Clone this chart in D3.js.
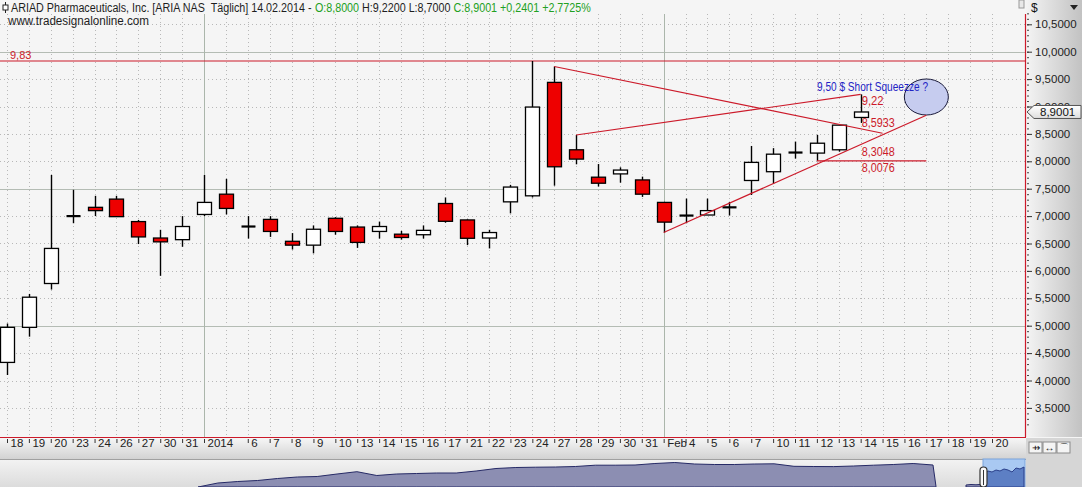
<!DOCTYPE html>
<html><head><meta charset="utf-8">
<script src="https://cdn.jsdelivr.net/npm/d3@7"></script>
<style>
body{margin:0;background:#f5f5f5;overflow:hidden}
text{font-family:"Liberation Sans",Arial,sans-serif}
</style>
</head><body><svg id="c" width="1082" height="487"></svg>
<script>
// ---------- DATA ----------
const dateLabels = ["18","19","20","23","24","26","27","30","31","2014","","6","7","8","9","10","13","14","15","16","17","21","22","23","24","27","28","29","30","31","Feb","4","5","6","7","10","11","12","13","14","15","16","17","18","19","20"];
const monthStarts = [9, 30];
const opens  = [4.33,4.97,5.77,7.00,7.16,7.31,6.90,6.60,6.57,7.03,7.40,6.81,6.94,6.54,6.47,6.96,6.80,6.72,6.67,6.66,7.23,6.93,6.60,7.26,7.37,9.44,8.21,7.71,7.77,7.66,7.25,7.01,7.02,7.16,7.65,7.81,8.16,8.15,8.21,8.80];
const highs  = [5.04,5.58,7.75,7.48,7.37,7.37,6.93,6.75,7.00,7.75,7.68,7.00,7.00,6.69,6.83,6.98,6.83,6.90,6.73,6.83,7.34,6.94,6.75,7.57,9.83,9.73,8.48,7.95,7.89,7.72,7.26,7.32,7.32,7.26,8.28,8.24,8.36,8.48,8.66,9.22];
const lows   = [4.10,4.80,5.66,6.87,7.00,6.99,6.49,5.91,6.44,7.00,7.03,6.59,6.62,6.39,6.32,6.66,6.42,6.59,6.57,6.59,6.88,6.47,6.41,7.05,7.34,7.555,7.945,7.54,7.61,7.35,6.70,6.87,7.02,7.01,7.385,7.59,8.05,8.0076,8.175,8.70];
const closes = [4.97,5.52,6.41,7.00,7.10,6.99,6.62,6.53,6.81,7.25,7.14,6.81,6.72,6.47,6.76,6.72,6.52,6.81,6.61,6.74,6.905,6.595,6.70,7.53,8.99,7.90,8.04,7.60,7.84,7.40,6.89,7.01,7.10,7.16,7.98,8.13,8.16,8.33,8.66,8.9001];
const priceTicks = [3.5,4,4.5,5,5.5,6,6.5,7,7.5,8,8.5,9,9.5,10,10.5];
const majorGrid = [5,7.5,10];
const lastPrice = 8.9001;
const levelValue = 9.83;
const descLine = [[25,9.73],[40,8.512]];
const upperLine = [[26,8.48],[39,9.22]];
const supportLine = [[30,6.70],[42,8.84]];
const flatLine = [[37,8.0076],[42,8.0076]];
const lineLabels = [["9,22",39,9.22,1],["8,5933",39,8.5933,-1],["8,3048",39,8.3048,1],["8,0076",39,8.0076,1]];
const noteText = "9,50 $ Short Squeezze ?";
const headerParts = ["ARIAD Pharmaceuticals, Inc. [ARIA NAS\u00A0 Täglich] 14.02.2014 -", "O:8,8000", "H:9,2200 L:8,7000", "C:8,9001 +0,2401 +2,7725%"];
const headerColors = ["#1e1e1e","#22a022","#1e1e1e","#22a022"];
const navValues = [0,4,5.5,6.5,8.5,10,10.5,13,15.3,11.5,13,13.5,14,14,16,18.5,19.5,19.8,20,20.5,21.8,21.8,22,23.5,24.5,23,22.5,22.5,23,23.2,20.7,20.5,20.4,21,21.8,22.5,23.5,22];
const navTail = [2,2.5,2.2,2.6];
const navWindow = [13,16,15,17,16,18,17,15,19,18,20];

// ---------- SETUP ----------
const svg = d3.select("#c");
const W = 1082, H = 487, plotR = 1025, plotT = 14, plotB = 437;
const x = d3.scaleLinear().domain([0,45]).range([7,992]);
const y = d3.scaleLinear().domain([3.5,10]).range([407.9,51.7]);
const red = "#cc1a2a";
const FS = 11;
const fmt = v => d3.format(".4f")(v).replace(".",",");

const defs = svg.append("defs");
const g1 = defs.append("linearGradient").attr("id","axR").attr("x1",0).attr("x2",1).attr("y1",0).attr("y2",0);
g1.append("stop").attr("offset",0).attr("stop-color","#f4f4f4");
g1.append("stop").attr("offset",1).attr("stop-color","#c2c2c2");
const g2 = defs.append("linearGradient").attr("id","axB").attr("x1",0).attr("x2",0).attr("y1",0).attr("y2",1);
g2.append("stop").attr("offset",0).attr("stop-color","#f6f6f6");
g2.append("stop").attr("offset",1).attr("stop-color","#d2d2d2");
const g3 = defs.append("linearGradient").attr("id","nav").attr("x1",0).attr("x2",0).attr("y1",0).attr("y2",1);
g3.append("stop").attr("offset",0).attr("stop-color","#f2f2f2");
g3.append("stop").attr("offset",1).attr("stop-color","#dcdcdc");
const g4 = defs.append("linearGradient").attr("id","mk").attr("x1",0).attr("x2",0).attr("y1",0).attr("y2",1);
g4.append("stop").attr("offset",0).attr("stop-color","#ffffff");
g4.append("stop").attr("offset",1).attr("stop-color","#dedede");

svg.append("rect").attr("width",W).attr("height",H).attr("fill","#f5f5f5");

// ---------- GRID ----------
const grid = svg.append("g");
priceTicks.forEach(v=>{
  const major = majorGrid.includes(v);
  grid.append("line").attr("x1",0).attr("x2",plotR).attr("y1",Math.round(y(v))+0.5).attr("y2",Math.round(y(v))+0.5)
    .attr("stroke", major?"#b4bcb4":"#b8b8b8").attr("stroke-dasharray", major?null:"1,3");
});
dateLabels.forEach((d,i)=>{
  const major = monthStarts.includes(i);
  grid.append("line").attr("x1",Math.round(x(i))+0.5).attr("x2",Math.round(x(i))+0.5).attr("y1",plotT).attr("y2",plotB)
    .attr("stroke", major?"#abb6ab":"#b8b8b8").attr("stroke-dasharray", major?null:"1,3");
});

// ---------- LEVEL LINE ----------
svg.append("line").attr("x1",0).attr("x2",plotR).attr("y1",y(levelValue)).attr("y2",y(levelValue)).attr("stroke",red).attr("stroke-width",1.2);
svg.append("text").attr("x",10).attr("y",y(levelValue)-2).attr("fill",red).attr("font-size",FS).text(fmt(levelValue).replace(/0+$/,""));

// ---------- CANDLES ----------
const cw = 14;
const cg = svg.append("g");
opens.forEach((o,i)=>{
  const c = closes[i], cx = Math.round(x(i))+0.5;
  cg.append("line").attr("x1",cx).attr("x2",cx).attr("y1",y(highs[i])).attr("y2",y(lows[i])).attr("stroke","#000").attr("stroke-width",1.4);
  if (o === c) {
    cg.append("line").attr("x1",cx-cw/2).attr("x2",cx+cw/2).attr("y1",y(o)).attr("y2",y(o)).attr("stroke","#000").attr("stroke-width",2.2);
  } else {
    const top = y(Math.max(o,c)), bot = y(Math.min(o,c));
    cg.append("rect").attr("x",cx-cw/2).attr("y",top).attr("width",cw).attr("height",Math.max(bot-top,2))
      .attr("fill", c>o?"#ffffff":"#ee0000").attr("stroke","#000").attr("stroke-width",1.3);
  }
});

// ---------- TRENDLINES ----------
svg.append("ellipse").attr("cx",x(42)).attr("cy",97).attr("rx",22).attr("ry",18).attr("fill","#c6ccef").attr("stroke","#1a1a3a").attr("stroke-width",1);
const ln = d3.line().x(d=>x(d[0])).y(d=>y(d[1]));
[descLine, upperLine, supportLine, flatLine].forEach(l=>{
  svg.append("path").attr("d",ln(l)).attr("fill","none").attr("stroke",red).attr("stroke-width",1.2);
});
lineLabels.forEach(([t,i,v,dir])=>{
  svg.append("text").attr("x",x(i)+1).attr("y", dir>0 ? y(v)+11 : y(v)-2).attr("fill",red).attr("font-size",FS+1).attr("textLength",t.length>4?33:22).attr("lengthAdjust","spacingAndGlyphs").text(t);
});
svg.append("text").attr("x",817).attr("y",91).attr("fill","#2323c4").attr("font-size",FS+1)
  .attr("textLength",111).attr("lengthAdjust","spacingAndGlyphs").text(noteText);

// ---------- RIGHT AXIS ----------
svg.append("rect").attr("x",plotR+1).attr("y",0).attr("width",W-plotR-1).attr("height",plotB).attr("fill","url(#axR)");
svg.append("line").attr("x1",plotR+0.5).attr("x2",plotR+0.5).attr("y1",plotT).attr("y2",plotB).attr("stroke",red).attr("stroke-width",1.2);
const minor = d3.range(3.2,10.75,0.1);
const ra = svg.append("g").attr("transform",`translate(${plotR+2},0)`)
  .call(d3.axisRight(y).tickValues(minor).tickSize(2).tickFormat(""));
ra.select(".domain").remove();
ra.selectAll("line").attr("stroke","#444");
const rb = svg.append("g").attr("transform",`translate(${plotR+2},0)`)
  .call(d3.axisRight(y).tickValues(priceTicks).tickSize(5).tickPadding(3).tickFormat(fmt));
rb.select(".domain").remove();
rb.selectAll("line").attr("stroke","#333");
rb.selectAll("text").attr("font-size",FS+0.5).attr("fill","#222").attr("font-family","Liberation Sans, Arial, sans-serif");
svg.append("text").attr("x",1031).attr("y",12).attr("font-size",12).attr("fill","#111").text("$");
svg.append("path").attr("d","M1070,5 L1078,5 L1074,10 Z").attr("fill","#222");
svg.append("rect").attr("x",1019).attr("y",0).attr("width",5).attr("height",8).attr("fill","#e8e8e8").attr("stroke","#999");

// price marker
const my = y(lastPrice);
svg.append("path").attr("d",`M${plotR+2},${my} L${plotR+9},${my-6.5} L${W-1},${my-6.5} L${W-1},${my+6.5} L${plotR+9},${my+6.5} Z`)
  .attr("fill","url(#mk)").attr("stroke","#555");
svg.append("text").attr("x",1040).attr("y",my+4.5).attr("font-size",FS+0.5).attr("fill","#111").text(fmt(lastPrice));

// ---------- BOTTOM AXIS ----------
svg.append("rect").attr("x",0).attr("y",plotB+1).attr("width",plotR+1).attr("height",21).attr("fill","url(#axB)");
svg.append("line").attr("x1",0).attr("x2",plotR+1).attr("y1",plotB+0.5).attr("y2",plotB+0.5).attr("stroke",red).attr("stroke-width",1.2);
svg.append("line").attr("x1",0).attr("x2",plotR+1).attr("y1",459.5).attr("y2",459.5).attr("stroke","#a0a0a0");
const shown = d3.range(dateLabels.length).filter(i=>dateLabels[i]!=="");
const ba = svg.append("g").attr("transform",`translate(0,${plotB+2})`)
  .call(d3.axisBottom(x).tickValues(shown).tickSize(4).tickFormat(i=>dateLabels[i]));
ba.select(".domain").remove();
ba.selectAll("line").attr("stroke","#333");
ba.selectAll("text").attr("text-anchor","start").attr("x",3).attr("y",0).attr("dy","0.71em")
  .attr("font-size",FS+0.5).attr("fill","#222").attr("font-family","Liberation Sans, Arial, sans-serif");

// ---------- NAVIGATOR ----------
svg.append("rect").attr("x",0).attr("y",460).attr("width",plotR+1).attr("height",27).attr("fill","url(#nav)");
const navX = d3.scaleLinear().domain([0,navValues.length-1]).range([198,933]);
const navY = d3.scaleLinear().domain([0,27]).range([487,460]);
const navArea = d3.area().x(d=>d[0]).y0(487).y1(d=>navY(d[1]));
const navPts = navValues.map((v,i)=>[navX(i),v]);
navPts.push([936,0.5]);
svg.append("path").attr("d",navArea(navPts)).attr("fill","#8c8eb2").attr("stroke","#262a66").attr("stroke-width",1);
const tailX = d3.scaleLinear().domain([0,navTail.length-1]).range([966,981]);
svg.append("path").attr("d",navArea(navTail.map((v,i)=>[tailX(i),v]))).attr("fill","#8c8eb2").attr("stroke","#262a66");
svg.append("rect").attr("x",983).attr("y",459).attr("width",42).attr("height",28).attr("fill","#a9c9f2").attr("stroke","#7aa4dc");
const winX = d3.scaleLinear().domain([0,navWindow.length-1]).range([984,1024]);
svg.append("path").attr("d",navArea(navWindow.map((v,i)=>[winX(i),v]))).attr("fill","#5d7fc4").attr("stroke","#2a3f8a");
svg.append("rect").attr("x",980).attr("y",467).attr("width",7).attr("height",20).attr("rx",3.5).attr("fill","#fafafa").attr("stroke","#333").attr("stroke-width",1.2);
svg.append("line").attr("x1",983.5).attr("x2",983.5).attr("y1",470).attr("y2",485).attr("stroke","#333");

// bottom-right box
svg.append("rect").attr("x",plotR+1).attr("y",plotB+1).attr("width",W-plotR-1).attr("height",H-plotB-1).attr("fill","#d6d6d6");
["\u21F8","\u2194","\u2312"].forEach((s,i)=>{
  svg.append("rect").attr("x",1029+i*14).attr("y",442).attr("width",13).attr("height",11).attr("fill","#f4f4f4").attr("stroke","#8a8a8a");
  svg.append("text").attr("x",1035.5+i*14).attr("y",451).attr("text-anchor","middle").attr("font-size",10).attr("fill","#111")
    .attr("font-family","DejaVu Sans, sans-serif").text(s);
});

// ---------- HEADER ----------
const ic = svg.append("g");
ic.append("line").attr("x1",5.5).attr("x2",5.5).attr("y1",2).attr("y2",13).attr("stroke","#222");
ic.append("rect").attr("x",3).attr("y",5).attr("width",5).attr("height",5).attr("fill","#fff").attr("stroke","#222");
// measure natural widths, then compress the whole header line horizontally to its width in the original
const meas = svg.append("text").attr("font-size",12).attr("x",-999).attr("y",-999);
const widths = headerParts.map(t=>{ meas.text(t); return meas.node().getComputedTextLength(); });
meas.text("a\u00A0a"); const wAA = meas.node().getComputedTextLength();
meas.text("aa"); const spaceW = wAA - meas.node().getComputedTextLength();
meas.remove();
const total = d3.sum(widths) + spaceW*(headerParts.length-1);
const k = 580/total;
const hg = svg.append("g").attr("transform",`translate(11,0) scale(${k},1)`);
let hxPos = 0;
headerParts.forEach((t,i)=>{
  hg.append("text").attr("x",hxPos).attr("y",12).attr("font-size",12).attr("fill",headerColors[i]).text(t);
  hxPos += widths[i]+spaceW;
});
svg.append("text").attr("x",8).attr("y",25).attr("font-size",12).attr("fill","#1e1e1e")
  .attr("textLength",141).attr("lengthAdjust","spacingAndGlyphs").text("www.tradesignalonline.com");
</script>
</body></html>
